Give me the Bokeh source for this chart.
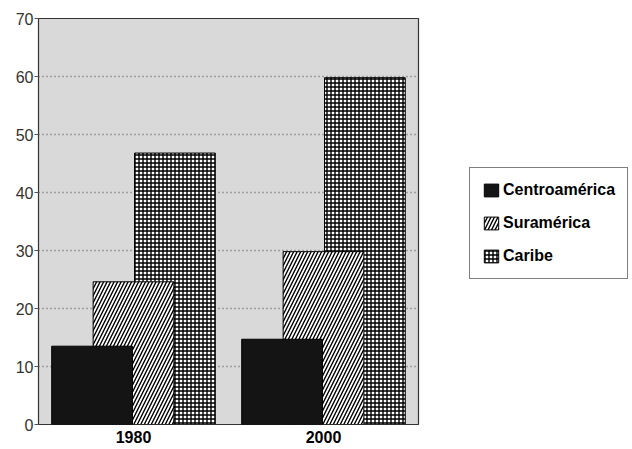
from bokeh.plotting import figure
from bokeh.models import (ColumnDataSource, FactorRange, Range1d, FixedTicker,
                          Legend, LegendItem)
from bokeh.transform import dodge
from bokeh.embed import file_html
from bokeh.resources import INLINE

years = ["1980", "2000"]
centroamerica = [13.5, 14.7]
suramerica = [24.6, 29.8]
caribe = [46.8, 59.8]
y_ticks = [0, 10, 20, 30, 40, 50, 60, 70]

src = ColumnDataSource(dict(x=years, c=centroamerica, s=suramerica, k=caribe))

p = figure(x_range=FactorRange(*years, range_padding=0), y_range=Range1d(0, 70),
           frame_width=380, frame_height=406, output_backend="svg", toolbar_location=None,
           min_border_left=38, min_border_right=214, min_border_top=18,
           min_border_bottom=24)
p.background_fill_color = "#d9d9d9"
p.border_fill_color = "white"
p.outline_line_color = "#333333"
p.outline_line_width = 1.2

W = 0.425
OFF = 0.218
r_k = p.vbar(x=dodge("x", OFF, range=p.x_range), top="k", width=W, source=src,
             fill_color="white", line_color="black", line_width=1,
             hatch_pattern="+", hatch_color="black", hatch_scale=4, hatch_weight=1.4)
r_s = p.vbar(x=dodge("x", 0.0, range=p.x_range), top="s", width=W, source=src,
             fill_color="white", line_color="black", line_width=1,
             hatch_pattern="/", hatch_color="black", hatch_scale=7, hatch_weight=1.4)
r_c = p.vbar(x=dodge("x", -OFF, range=p.x_range), top="c", width=W, source=src,
             fill_color="#141414", line_color="black", line_width=1)

p.xgrid.grid_line_color = None
p.ygrid.ticker = FixedTicker(ticks=y_ticks)
p.ygrid.grid_line_color = "#666666"
p.ygrid.grid_line_dash = "1 3"
p.ygrid.grid_line_width = 1.3

p.yaxis.ticker = FixedTicker(ticks=y_ticks)
p.yaxis.axis_line_color = None
p.yaxis.major_tick_out = 4
p.yaxis.major_tick_in = 0
p.yaxis.minor_tick_line_color = None
p.yaxis.major_tick_line_color = "#555555"
p.yaxis.major_label_standoff = 1
p.yaxis.major_label_text_font = "Liberation Sans"
p.yaxis.major_label_text_font_size = "16px"
p.yaxis.major_label_text_color = "#333333"

p.xaxis.axis_line_color = None
p.xaxis.major_tick_line_color = None
p.xaxis.major_tick_out = 0
p.xaxis.major_label_standoff = 6
p.xaxis.major_label_text_font = "Liberation Sans"
p.xaxis.major_label_text_font_style = "bold"
p.xaxis.major_label_text_font_size = "16px"
p.xaxis.major_label_text_color = "black"

legend = Legend(items=[LegendItem(label="Centroamérica", renderers=[r_c]),
                       LegendItem(label="Suramérica", renderers=[r_s]),
                       LegendItem(label="Caribe", renderers=[r_k])],
                location=(51, 145))
legend.label_text_font = "Liberation Sans"
legend.label_text_font_style = "bold"
legend.label_text_font_size = "16px"
legend.label_text_color = "black"
legend.glyph_width = 18
legend.glyph_height = 16
legend.label_height = 20
legend.label_standoff = 3
legend.spacing = 13
legend.padding = 12
legend.margin = 4
legend.border_line_color = "black"
legend.border_line_width = 1.5
legend.background_fill_color = "white"
legend.background_fill_alpha = 1
p.add_layout(legend, "right")

open("out.html", "w").write(file_html(p, INLINE))
